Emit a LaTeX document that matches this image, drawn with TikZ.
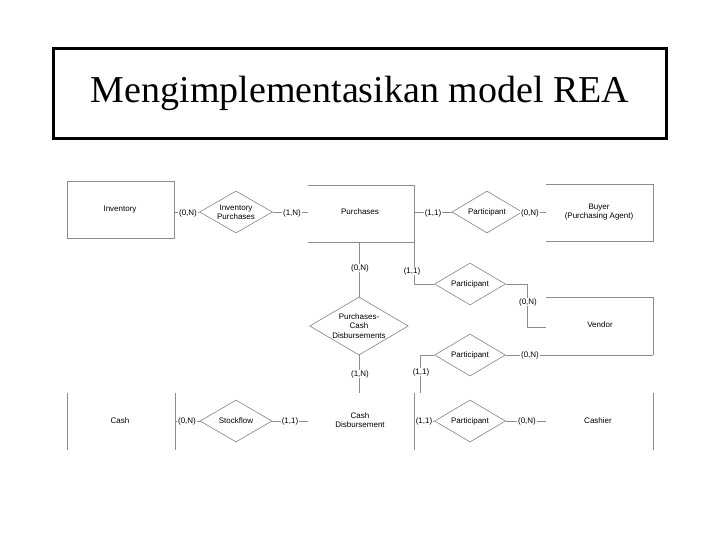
\documentclass[tikz,border=0pt]{standalone}
\usepackage{fontspec}
\setmainfont{Liberation Serif}
\newfontfamily\diag{Liberation Sans}
\usetikzlibrary{shapes.geometric}
\begin{document}
\begin{tikzpicture}[x=0.75pt,y=-0.75pt,
  ln/.style={draw=black!45,line width=0.5pt},
  dia/.style={diamond,draw=black!45,line width=0.5pt,minimum width=#1,minimum height=42*0.75pt,inner sep=0pt,aspect=1.7},
  txt/.style={font=\diag\fontsize{6}{7}\selectfont,align=center,inner sep=0.5pt},
  lab/.style={txt,fill=white}]
\useasboundingbox (0,0) rectangle (720,540);
% title
\node[draw,line width=2.2pt,minimum width=613*0.75pt,minimum height=90*0.75pt,anchor=north west,inner sep=0pt] (title) at (52,47) {};
\node[font=\fontsize{28.5}{32}\selectfont] (tt) at (title.center) {Mengimplementasikan model REA};
% entity borders
\draw[ln] (67,181) rectangle (174,238);
\draw[ln] (308,185) -- (414,185) -- (414,284);
\draw[ln] (308,242) -- (414,242);
\draw[ln] (546,184) -- (653,184) -- (653,241) -- (546,241);
\draw[ln] (546,297) -- (653,297) -- (653,355);
\draw[ln] (67,393) -- (67,450) (175,393) -- (175,450) (414,393) -- (414,450) (653,393) -- (653,450);
% entity texts
\node[txt] (inv) at (120,210) {Inventory};
\node[txt] (pur) at (360,212) {Purchases};
\node[txt] (buy) at (599,212) {Buyer\\(Purchasing Agent)};
\node[txt] (ven) at (600,325) {Vendor};
\node[txt] (cash) at (120,421) {Cash};
\node[txt] (cd) at (360,420) {Cash\\Disbursement};
\node[txt] (cas) at (598,421) {Cashier};
% diamonds
\node[dia=73*0.75pt,txt] (ip) at (236,212) {Inventory\\Purchases};
\node[dia=98*0.75pt,minimum height=58*0.75pt,txt] (pcd) at (359,326) {Purchases-\\Cash\\Disbursements};
\node[dia=72*0.75pt,txt] (sf) at (236,421) {Stockflow};
\node[dia=70*0.75pt,txt] (p1) at (487,212) {Participant};
\node[dia=71*0.75pt,txt] (p2) at (470,284) {Participant};
\node[dia=71*0.75pt,txt] (p3) at (470,355) {Participant};
\node[dia=71*0.75pt,txt] (p4) at (470,421) {Participant};
% coordinates
\coordinate (c1) at (174,212);
\coordinate (c2) at (308,212);
\coordinate (c3) at (414,212);
\coordinate (c4) at (546,212);
\coordinate (c5) at (359,242);
\coordinate (c6) at (359,393);
\coordinate (c7) at (414,284);
\coordinate (c8) at (527,284);
\coordinate (c9) at (527,327);
\coordinate (c10) at (546,327);
\coordinate (c11) at (420,355);
\coordinate (c12) at (420,393);
\coordinate (c13) at (653,355);
\coordinate (c14) at (175,421);
\coordinate (c15) at (308,421);
\coordinate (c16) at (414,421);
\coordinate (c17) at (546,421);
% connectors
\draw[ln] (c1) -- (ip.west) (ip.east) -- (c2);
\draw[ln] (c3) -- (p1.west) (p1.east) -- (c4);
\draw[ln] (c5) -- (pcd.north) (pcd.south) -- (c6);
\draw[ln] (c7) -- (p2.west) (p2.east) -- (c8) -- (c9) -- (c10);
\draw[ln] (c12) -- (c11) -- (p3.west) (p3.east) -- (c13);
\draw[ln] (c14) -- (sf.west) (sf.east) -- (c15);
\draw[ln] (c16) -- (p4.west) (p4.east) -- (c17);
% labels
\node[lab] (l1) at (188,213) {(0,N)};
\node[lab] (l2) at (292,213) {(1,N)};
\node[lab] (l3) at (433,213) {(1,1)};
\node[lab] (l4) at (530,213) {(0,N)};
\node[lab] (l5) at (360,268) {(0,N)};
\node[lab] (l6) at (360,374) {(1,N)};
\node[lab] (l7) at (412,271) {(1,1)};
\node[lab] (l8) at (528,302) {(0,N)};
\node[lab] (l9) at (421,372) {(1,1)};
\node[lab] (l10) at (530,355) {(0,N)};
\node[lab] (l11) at (187,421) {(0,N)};
\node[lab] (l12) at (290,421) {(1,1)};
\node[lab] (l13) at (424,421) {(1,1)};
\node[lab] (l14) at (527,421) {(0,N)};
\end{tikzpicture}
\end{document}
